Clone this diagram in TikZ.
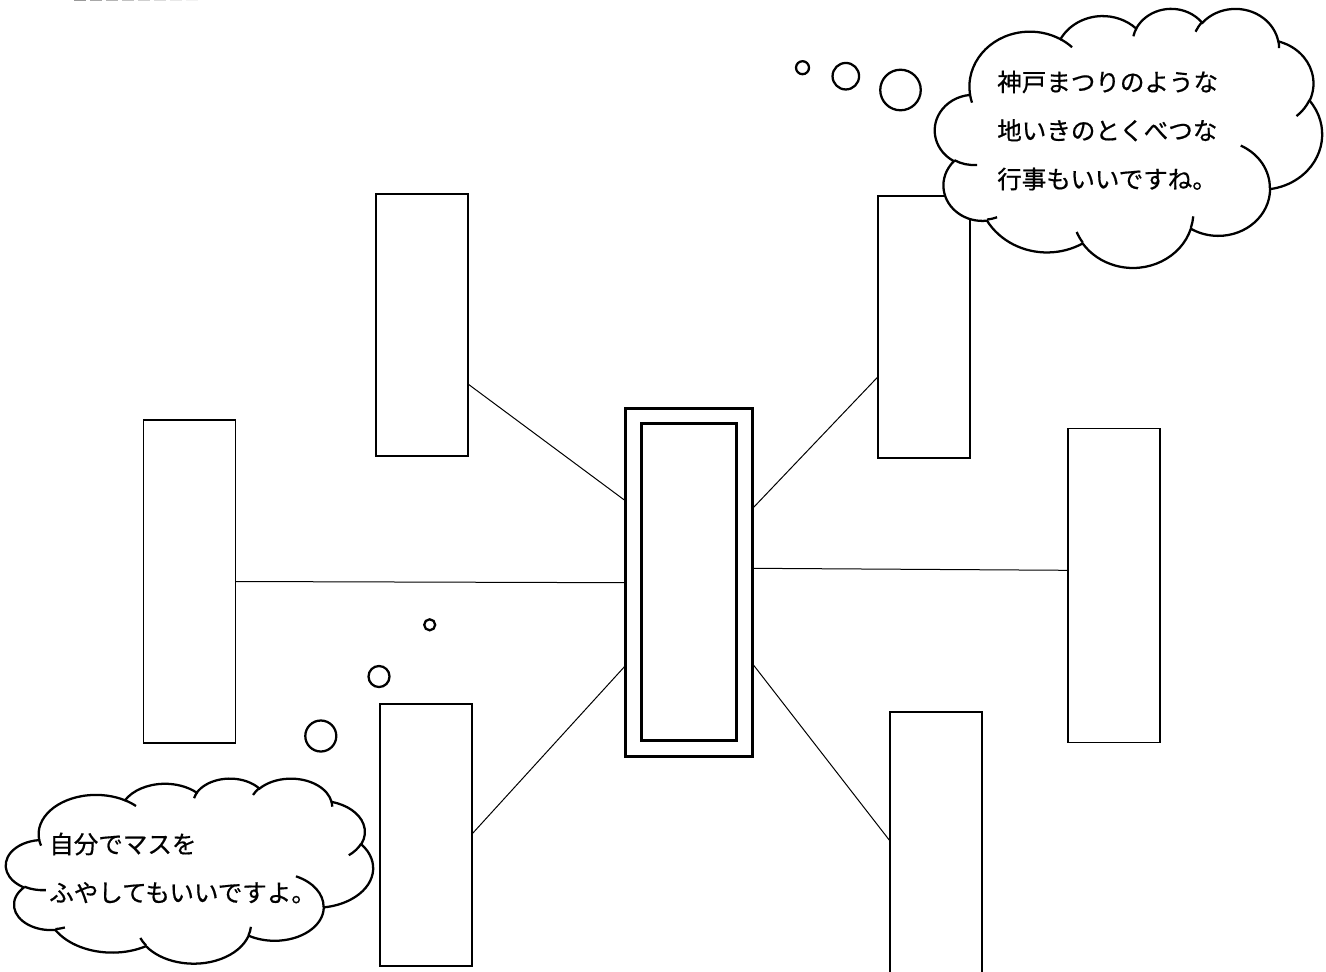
\documentclass[tikz,border=0pt]{standalone}
\usepackage{fontspec}
\usetikzlibrary{calc}
\newfontfamily\jp[FakeBold=0.6]{Noto Sans CJK JP}
% Office-style arcTo: wR, hR, visual start angle, visual sweep
\newcommand\ooarccompute[4]{%
  \pgfmathsetmacro\ooa{#3}\pgfmathsetmacro\oob{#3+#4}%
  \pgfmathsetmacro\ooTa{atan2(#1*sin(\ooa),#2*cos(\ooa))}%
  \pgfmathsetmacro\ooTa{\ooTa+360*round((\ooa-\ooTa)/360)}%
  \pgfmathsetmacro\ooTb{atan2(#1*sin(\oob),#2*cos(\oob))}%
  \pgfmathsetmacro\ooTb{\ooTb+360*round((\oob-\ooTb)/360)}%
  \pgfmathsetmacro\ooTd{\ooTb-\ooTa}%
  \xdef\ooA{\ooTa}\xdef\ooD{\ooTd}}
\newcommand\ooarc[4]{\pgfextra{\ooarccompute{#1}{#2}{#3}{#4}} arc[x radius=#1, y radius=#2, start angle=\ooA, delta angle=\ooD]}
\newcommand\cloudbody{%
  \draw[cloudline, fill=white] (3.9,14.37)
    \ooarc{6.753}{9.190}{-190.4875}{123.7805}
    \ooarc{5.333}{7.267}{-144.1024}{89.9452}
    \ooarc{4.365}{5.945}{-145.8079}{99.7230}
    \ooarc{4.857}{6.595}{-130.9861}{117.2417}
    \ooarc{5.333}{7.273}{-78.7089}{109.0269}
    \ooarc{6.775}{9.220}{-46.2673}{130.2690}
    \ooarc{5.785}{7.867}{0.6250}{114.0333}
    \ooarc{6.752}{9.215}{22.4516}{115.1726}
    \ooarc{7.720}{10.543}{66.2426}{75.7110}
    \ooarc{4.360}{5.918}{-274.9421}{146.7356}
    \ooarc{4.345}{5.945}{-246.8285}{152.5189}
    -- cycle;
  \draw[cloudline]
    (4.693,26.177) \ooarc{4.345}{5.945}{86.742}{26.4295}
    (6.928,34.899) \ooarc{4.360}{5.918}{73.6105}{11.4475}
    (16.478,39.090) \ooarc{6.752}{9.215}{137.6242}{14.0811}
    (28.827,34.751) \ooarc{6.752}{9.215}{6.4533}{15.9984}
    (34.129,22.954) \ooarc{5.785}{7.867}{-70.2924}{70.9174}
    (41.798,15.354) \ooarc{5.333}{7.273}{30.3180}{27.7515}
    (38.324,5.426) \ooarc{4.857}{6.595}{-13.7443}{14.8589}
    (29.078,3.952) \ooarc{4.857}{6.595}{-149.1815}{18.1954}
    (22.141,4.720) \ooarc{4.365}{5.945}{-163.4943}{17.6864}
    (14.000,5.192) \ooarc{6.753}{9.190}{-66.7070}{12.3194}
    (4.127,15.789) \ooarc{6.753}{9.190}{157.6544}{11.8582};}
\tikzset{
  rbox/.style={draw=black, line width=1pt, fill=white, rectangle, inner sep=0pt, outer sep=0pt, minimum width=69pt},
  cbox/.style={draw=black, line width=2.1pt, rectangle, inner sep=0pt, outer sep=0pt},
  link/.style={draw=black, line width=0.75pt},
  cloudline/.style={draw=black, line width=1.7pt},
  bubble/.style={draw=black, line width=1.7pt, circle, inner sep=0pt, outer sep=0pt, fill=white},
  jptext/.style={font=\jp\fontsize{18.4pt}{36.4pt}\selectfont, align=left, inner sep=0pt, anchor=west},
}
\begin{document}
\begin{tikzpicture}[x=0.75pt, y=-0.75pt]
\useasboundingbox (0,0) rectangle (1326,971);
\fill[white] (0,0) rectangle (1326,971);
% faint dashes at top edge
\fill[black!40] (74,0) rectangle (86,1.1);
\fill[black!34] (90,0) rectangle (102,1.1);
\fill[black!29] (106,0) rectangle (118,1.1);
\fill[black!24] (122,0) rectangle (134,1.1);
\fill[black!19] (138,0) rectangle (150,1.1);
\fill[black!14] (154,0) rectangle (166,1.1);
\fill[black!9] (170,0) rectangle (182,1.1);
\fill[black!5] (186,0) rectangle (198,1.1);
% boxes
\node[rbox, minimum height=196.5pt] (tl) at (422,325) {};
\node[rbox, minimum height=242.25pt] (l) at (189.7,581.5) {};
\node[rbox, minimum height=196.5pt] (bl) at (426,835) {};
\node[rbox, minimum height=196.5pt] (tr) at (924,327) {};
\node[rbox, minimum height=235.5pt] (r) at (1114,585.3) {};
\node[rbox, minimum height=196.5pt] (br) at (936,843) {};
\node[cbox, minimum width=95.25pt, minimum height=261pt] (co) at (689.2,582.7) {};
\node[cbox, minimum width=71.5pt, minimum height=237.75pt] (ci) at (689,582.2) {};
% connectors
\draw[link] ($(tl.east)+(0,59)$) -- ($(co.west)+(0,-81.7)$);
\draw[link] (l.east) -- (co.west);
\draw[link] ($(bl.east)+(0,-1)$) -- ($(co.west)+(0,82.6)$);
\draw[link] ($(tr.west)+(0,49.7)$) -- ($(co.east)+(0,-74.4)$);
\draw[link] ($(co.east)+(0,-14.4)$) -- ($(r.west)+(0,-15)$);
\draw[link] ($(co.east)+(0,81.3)$) -- ($(br.west)+(0,-2)$);
% thought bubbles
\node[bubble, minimum size=9.75pt] (tb1) at (802.5,67.7) {};
\node[bubble, minimum size=19.9pt] (tb2) at (845.8,76.2) {};
\node[bubble, minimum size=30.4pt] (tb3) at (900.5,90) {};
\node[bubble, minimum size=8.25pt] (bb1) at (429.7,624.8) {};
\node[bubble, minimum size=15.75pt] (bb2) at (379,676.5) {};
\node[bubble, minimum size=23.25pt] (bb3) at (320.8,736) {};
% clouds
\begin{scope}[shift={(935,8)}, x=6.719pt, y=-4.497pt]
\cloudbody
\end{scope}
\begin{scope}[shift={(6,778)}, x=6.372pt, y=-3.212pt]
\cloudbody
\end{scope}
% texts
\node[jptext] (t1) at (997,130.5) {神戸まつりのような\\地いきのとくべつな\\行事もいいですね。};
\node[jptext] (t2) at (49,868) {自分でマスを\\ふやしてもいいですよ。};
\end{tikzpicture}
\end{document}
